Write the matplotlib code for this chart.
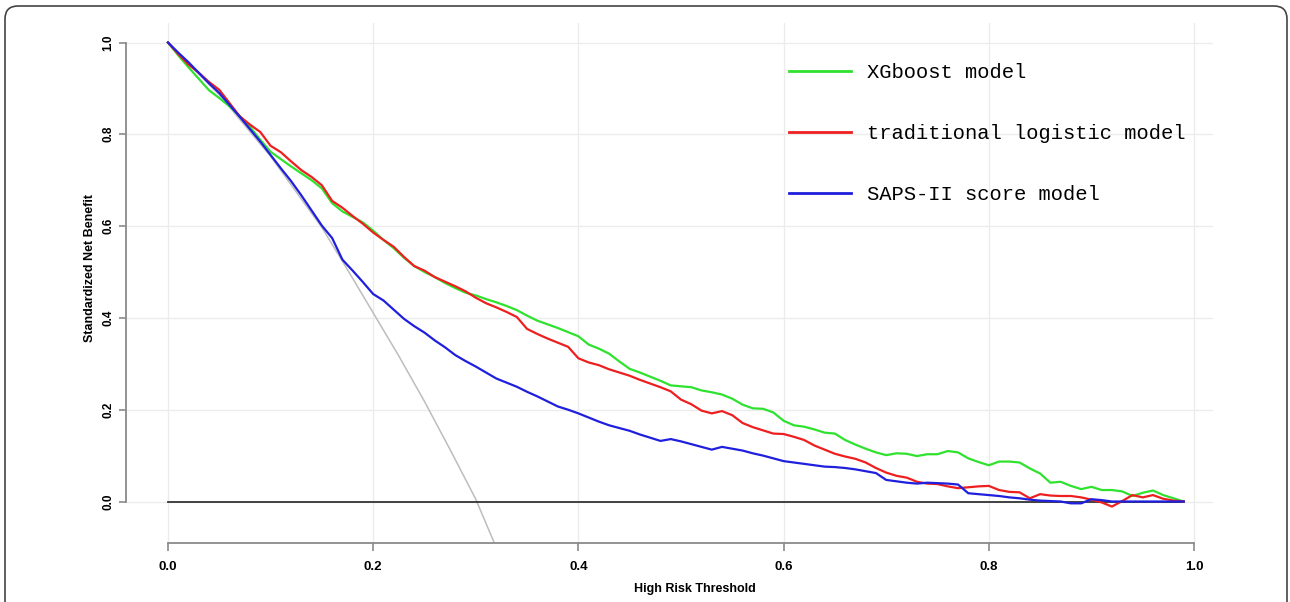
import numpy as np
import matplotlib.pyplot as plt
from matplotlib import font_manager
from matplotlib.patches import FancyBboxPatch

# Limiares de risco (passo de 0.01)
limiares = np.round(np.arange(0, 100) * 0.01, 2)

xgboost = [
    1.000, 0.972, 0.946, 0.921, 0.896, 0.879, 0.861, 0.840, 0.816, 0.788,
    0.762, 0.746, 0.730, 0.715, 0.700, 0.682, 0.650, 0.632, 0.620, 0.608,
    0.590, 0.570, 0.552, 0.531, 0.513, 0.500, 0.489, 0.476, 0.465, 0.455,
    0.449, 0.441, 0.434, 0.426, 0.417, 0.405, 0.394, 0.386, 0.378, 0.369,
    0.360, 0.342, 0.333, 0.322, 0.305, 0.289, 0.281, 0.272, 0.263, 0.253,
    0.251, 0.249, 0.242, 0.238, 0.233, 0.224, 0.211, 0.203, 0.202, 0.194,
    0.176, 0.166, 0.163, 0.157, 0.150, 0.148, 0.134, 0.124, 0.115, 0.107,
    0.101, 0.105, 0.104, 0.099, 0.103, 0.103, 0.110, 0.107, 0.094, 0.086,
    0.079, 0.087, 0.087, 0.085, 0.072, 0.061, 0.041, 0.043, 0.034, 0.027,
    0.032, 0.025, 0.025, 0.022, 0.012, 0.019, 0.024, 0.014, 0.007, 0.000,
]

logistico = [
    1.000, 0.975, 0.952, 0.934, 0.914, 0.897, 0.868, 0.839, 0.821, 0.805,
    0.775, 0.761, 0.741, 0.722, 0.707, 0.689, 0.655, 0.640, 0.622, 0.605,
    0.586, 0.570, 0.555, 0.533, 0.513, 0.503, 0.489, 0.479, 0.469, 0.458,
    0.444, 0.432, 0.423, 0.413, 0.402, 0.376, 0.365, 0.355, 0.346, 0.337,
    0.312, 0.303, 0.297, 0.288, 0.281, 0.274, 0.265, 0.257, 0.249, 0.240,
    0.222, 0.212, 0.198, 0.192, 0.197, 0.188, 0.171, 0.162, 0.155, 0.148,
    0.147, 0.141, 0.134, 0.122, 0.113, 0.104, 0.098, 0.093, 0.085, 0.073,
    0.063, 0.056, 0.052, 0.043, 0.039, 0.038, 0.033, 0.029, 0.031, 0.033,
    0.034, 0.025, 0.021, 0.020, 0.007, 0.016, 0.013, 0.012, 0.012, 0.009,
    0.004, -0.002, -0.011, 0.001, 0.014, 0.009, 0.014, 0.006, 0.002, 0.000,
]

saps = [
    1.000, 0.978, 0.957, 0.934, 0.911, 0.890, 0.864, 0.838, 0.811, 0.784,
    0.755, 0.726, 0.698, 0.667, 0.634, 0.601, 0.574, 0.527, 0.503, 0.478,
    0.452, 0.438, 0.418, 0.398, 0.382, 0.368, 0.351, 0.336, 0.319, 0.306,
    0.294, 0.281, 0.268, 0.259, 0.250, 0.239, 0.229, 0.218, 0.207, 0.200,
    0.192, 0.183, 0.174, 0.166, 0.160, 0.154, 0.146, 0.139, 0.132, 0.136,
    0.131, 0.125, 0.119, 0.113, 0.119, 0.115, 0.111, 0.105, 0.100, 0.094,
    0.088, 0.085, 0.082, 0.079, 0.076, 0.075, 0.073, 0.070, 0.066, 0.062,
    0.047, 0.044, 0.041, 0.039, 0.041, 0.040, 0.039, 0.037, 0.018, 0.016,
    0.014, 0.012, 0.009, 0.007, 0.004, 0.002, 0.001, 0.000, -0.004, -0.004,
    0.005, 0.003, 0.000, 0.000, 0.000, 0.000, 0.000, 0.000, 0.000, 0.000,
]

# Linha "tratar todos" (cinza)
todos_x = [0.0, 0.05, 0.10, 0.15, 0.175, 0.20, 0.225, 0.25, 0.275, 0.30, 0.318]
todos_y = [1.0, 0.886, 0.752, 0.597, 0.505, 0.411, 0.317, 0.218, 0.113, 0.005, -0.09]

nomes = ["XGboost model", "traditional logistic model", "SAPS-II score model"]
cores = ["#2ee22e", "#ee1f1f", "#1f1fdd"]
ticks = [0.0, 0.2, 0.4, 0.6, 0.8, 1.0]
tick_labels = ["0.0", "0.2", "0.4", "0.6", "0.8", "1.0"]

# Fonte estreita se existir
instaladas = {f.name for f in font_manager.fontManager.ttflist}
estreita = "Liberation Sans Narrow" if "Liberation Sans Narrow" in instaladas else "Liberation Sans"

fig = plt.figure(figsize=(12.9, 6.02), dpi=100)
ax = fig.add_axes([126 / 1290, 59 / 602, 1087 / 1290, 520 / 602])

# Grade
for t in ticks:
    ax.axvline(t, color="#ececec", lw=1, zorder=0)
    ax.axhline(t, color="#ececec", lw=1, zorder=0)

ax.plot(todos_x, todos_y, color="#bdbdbd", lw=1.1, zorder=1)
ax.plot([limiares[0], limiares[-1]], [0, 0], color="#333333", lw=1.3, zorder=2)

linhas = []
for serie, nome, cor in zip([xgboost, logistico, saps], nomes, cores):
    l, = ax.plot(limiares, serie, color=cor, lw=1.6, label=nome, zorder=3)
    linhas.append(l)

ax.set_xlim(-0.0409, 1.0185)
ax.set_ylim(-0.0904, 1.0425)

for lado in ["top", "right"]:
    ax.spines[lado].set_visible(False)
for lado in ["left", "bottom"]:
    ax.spines[lado].set_color("#8a8a8a")
    ax.spines[lado].set_linewidth(1.3)
ax.spines["left"].set_bounds(0, 1)
ax.spines["bottom"].set_bounds(0, 1)

ax.set_xticks(ticks)
ax.set_xticklabels(tick_labels, family=estreita, fontweight="bold", fontsize=9.5)
ax.set_yticks(ticks)
ax.set_yticklabels(tick_labels, family="Liberation Sans",
                   fontweight="bold", fontsize=8.5, rotation=90, va="center")
ax.tick_params(axis="both", direction="out", color="#8a8a8a", width=1.2)
ax.tick_params(axis="x", length=6, pad=7)
ax.tick_params(axis="y", length=5, pad=3.5)

ax.set_xlabel("High Risk Threshold", family=estreita, fontweight="bold", fontsize=9)
ax.xaxis.set_label_coords((695 - 126) / 1087, (543 - 583) / 520)
ax.set_ylabel("Standardized Net Benefit", family="Liberation Sans",
              fontweight="bold", fontsize=9)
ax.yaxis.set_label_coords((96 - 126) / 1087, (543 - 268) / 520)

leg = ax.legend(handles=linhas, loc="upper left",
                bbox_to_anchor=((789 - 126) / 1087, (543 - 63) / 520),
                frameon=False, borderpad=0, borderaxespad=0,
                handlelength=3.0, handletextpad=0.8, labelspacing=2.05,
                prop={"family": "Liberation Mono", "size": 14.8})
for h in leg.get_lines():
    h.set_linewidth(2.0)

# Moldura arredondada da figura
moldura = FancyBboxPatch((0.05, -0.5), 12.82, 6.46,
                         boxstyle="round,pad=0,rounding_size=0.13",
                         transform=fig.dpi_scale_trans, fill=False,
                         edgecolor="#444444", lw=1.2)
fig.patches.append(moldura)

fig.savefig("out.png", dpi=100)
